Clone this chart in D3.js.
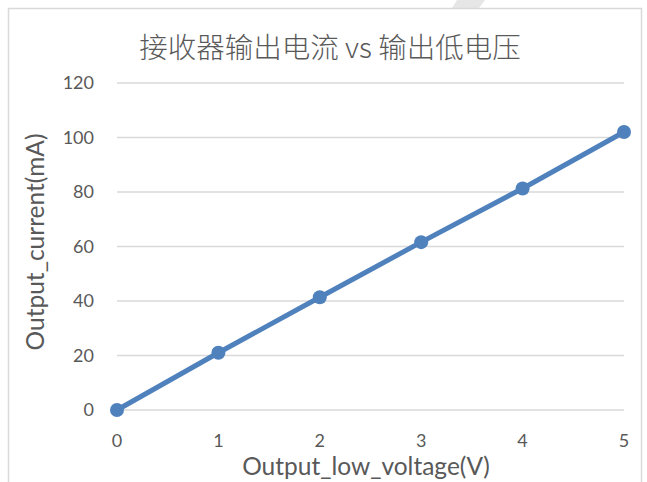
<!DOCTYPE html>
<html><head><meta charset="utf-8">
<script src="https://cdn.jsdelivr.net/npm/d3@7"></script>
<style>html,body{margin:0;padding:0;background:#fff;}svg{display:block;}</style>
</head><body>
<script>
const xValues = [0, 1, 2, 3, 4, 5];
const yValues = [0, 21, 41.4, 61.6, 81.3, 102];
const yTicks = [0, 20, 40, 60, 80, 100, 120];
const xTicks = [0, 1, 2, 3, 4, 5];
const title = "接收器输出电流 vs 输出低电压";
const xTitle = "Output_low_voltage(V)";
const yTitle = "Output_current(mA)";

const W = 647, H = 482;
const svg = d3.select("body").append("svg").attr("width", W).attr("height", H);
const font = "Lato, 'Open Sans', sans-serif";
const grey = "#595959";

// scan artifact stripe + border
svg.append("path").attr("d", "M457,0 L485,0 L479,8 L452,8 Z").attr("fill", "#e6e6e6");
svg.append("path").attr("d", "M8.5,482 L8.5,8.5 L641.5,8.5 L641.5,482")
  .attr("fill", "none").attr("stroke", "#d9d9d9").attr("stroke-width", 1.5);

const x = d3.scaleLinear().domain([0, 5]).range([117, 624]);
const y = d3.scaleLinear().domain([0, 120]).range([410, 83]);

// gridlines
svg.append("g").selectAll("line").data(yTicks).join("line")
  .attr("x1", x(0)).attr("x2", x(5))
  .attr("y1", d => y(d)).attr("y2", d => y(d))
  .attr("stroke", "#d9d9d9").attr("stroke-width", 1.5);

// y tick labels
svg.append("g").selectAll("text").data(yTicks).join("text")
  .attr("x", 94).attr("y", d => y(d)).attr("dy", "0.35em")
  .attr("text-anchor", "end").attr("font-family", font).attr("font-size", 18)
  .attr("fill", grey).text(d => d);

// x tick labels
svg.append("g").selectAll("text").data(xTicks).join("text")
  .attr("x", d => x(d)).attr("y", 441).attr("dy", "0.35em")
  .attr("text-anchor", "middle").attr("font-family", font).attr("font-size", 18)
  .attr("fill", grey).text(d => d);

// line
const data = xValues.map((v, i) => [v, yValues[i]]);
svg.append("path").datum(data)
  .attr("d", d3.line().x(d => x(d[0])).y(d => y(d[1])))
  .attr("fill", "none").attr("stroke", "#4f81bd").attr("stroke-width", 5)
  .attr("stroke-linecap", "round");
svg.append("g").selectAll("circle").data(data).join("circle")
  .attr("cx", d => x(d[0])).attr("cy", d => y(d[1])).attr("r", 7)
  .attr("fill", "#4f81bd");

// titles
svg.append("text").attr("x", 330).attr("y", 58).attr("text-anchor", "middle")
  .attr("font-family", "'Noto Sans CJK SC', sans-serif").attr("font-weight", 300)
  .attr("font-size", 28.5).attr("fill", grey).text(title);
svg.append("text").attr("x", 366).attr("y", 466).attr("dy", "0.35em").attr("text-anchor", "middle")
  .attr("font-family", font).attr("font-size", 24.5).attr("fill", grey).text(xTitle);
svg.append("text").attr("transform", "translate(35,242) rotate(-90)").attr("dy", "0.35em")
  .attr("text-anchor", "middle").attr("font-family", font).attr("font-size", 24.5)
  .attr("fill", grey).text(yTitle);
</script>
</body></html>
